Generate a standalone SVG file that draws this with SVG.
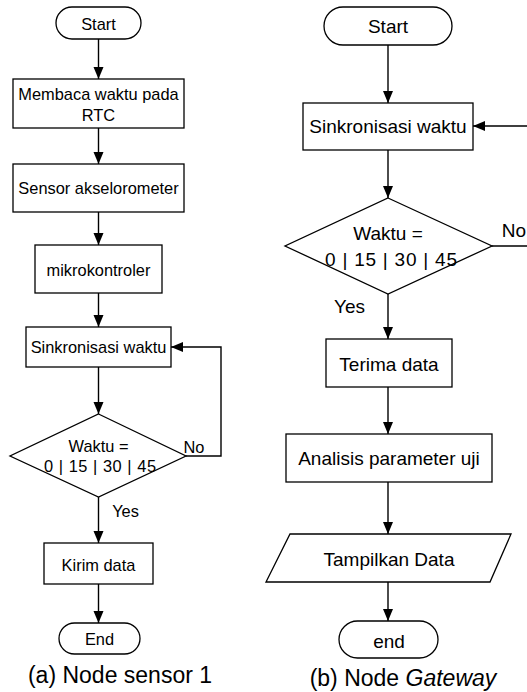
<svg xmlns="http://www.w3.org/2000/svg" width="527" height="692" viewBox="0 0 527 692">
<style>
.s{fill:#fff;stroke:#000;stroke-width:1.3}
.c{fill:none;stroke:#000;stroke-width:1.4}
text{font-family:"Liberation Sans",Arial,sans-serif;fill:#000;text-anchor:middle}
.l{font-size:16.4px}
.r{font-size:19px}
.cap{font-size:23px}
</style>
<defs>
<marker id="ah" markerUnits="userSpaceOnUse" markerWidth="12" markerHeight="12" viewBox="0 0 12 12" refX="12" refY="6" orient="auto">
<path d="M0,1 L12,6 L0,11 Z" fill="#000"/>
</marker>
</defs>
<rect width="527" height="692" fill="#fff"/>
<g id="connectors">
<line class="c" x1="98.5" y1="39" x2="98.5" y2="79" marker-end="url(#ah)"/>
<line class="c" x1="98.5" y1="128" x2="98.5" y2="164" marker-end="url(#ah)"/>
<line class="c" x1="98.5" y1="212" x2="98.5" y2="245" marker-end="url(#ah)"/>
<line class="c" x1="98.5" y1="293" x2="98.5" y2="327" marker-end="url(#ah)"/>
<line class="c" x1="98.5" y1="367" x2="98.5" y2="414" marker-end="url(#ah)"/>
<polyline class="c" points="186,456 221,456 221,347 171,347" marker-end="url(#ah)"/>
<line class="c" x1="98.5" y1="497" x2="98.5" y2="543" marker-end="url(#ah)"/>
<line class="c" x1="98.5" y1="584" x2="98.5" y2="623" marker-end="url(#ah)"/>
<line class="c" x1="388" y1="45" x2="388" y2="103" marker-end="url(#ah)"/>
<line class="c" x1="388" y1="150" x2="388" y2="198" marker-end="url(#ah)"/>
<polyline class="c" points="492,246 535,246 535,126 473,126" marker-end="url(#ah)"/>
<line class="c" x1="388" y1="294" x2="388" y2="339" marker-end="url(#ah)"/>
<line class="c" x1="388" y1="387" x2="388" y2="434" marker-end="url(#ah)"/>
<line class="c" x1="388" y1="482" x2="388" y2="534" marker-end="url(#ah)"/>
<line class="c" x1="388" y1="582" x2="388" y2="621" marker-end="url(#ah)"/>
<text class="l" x="194" y="453">No</text>
<text class="l" x="125.5" y="517">Yes</text>
<text class="r" x="514" y="237">No</text>
<text class="r" x="349.5" y="313">Yes</text>
</g>
<g id="a-start"><rect class="s" x="56" y="7" width="85" height="32" rx="16"/><text class="l" x="98.5" y="29.5">Start</text></g>
<g id="a-rtc"><rect class="s" x="13" y="79" width="171" height="49"/><text class="l" x="98.5" y="100">Membaca waktu pada</text><text class="l" x="98.5" y="121">RTC</text></g>
<g id="a-sensor"><rect class="s" x="13" y="164" width="171" height="48"/><text class="l" x="98.5" y="194">Sensor akselorometer</text></g>
<g id="a-mcu"><rect class="s" x="35" y="245" width="127" height="48"/><text class="l" x="98.5" y="276">mikrokontroler</text></g>
<g id="a-sync"><rect class="s" x="26" y="327" width="145" height="40"/><text class="l" x="98.5" y="353">Sinkronisasi waktu</text></g>
<g id="a-dec"><polygon class="s" points="98.5,414 186,456 98.5,497 10,456"/><text class="l" x="98.5" y="452">Waktu =</text><text class="l" x="100" y="472" textLength="112" lengthAdjust="spacing">0 | 15 | 30 | 45</text></g>
<g id="a-send"><rect class="s" x="44" y="543" width="109" height="41"/><text class="l" x="98.5" y="571">Kirim data</text></g>
<g id="a-end"><rect class="s" x="59" y="623" width="81" height="31" rx="15.5"/><text class="l" x="99.5" y="645">End</text></g>
<g id="a-caption"><text class="cap" x="120" y="683">(a) Node sensor 1</text></g>
<g id="b-start"><rect class="s" x="324" y="7" width="128" height="38" rx="19"/><text class="r" x="388" y="33">Start</text></g>
<g id="b-sync"><rect class="s" x="303" y="103" width="170" height="47"/><text class="r" x="388" y="133">Sinkronisasi waktu</text></g>
<g id="b-dec"><polygon class="s" points="388,198 492,246 388,294 285,246"/><text class="r" x="388" y="240">Waktu =</text><text class="r" x="391" y="266" textLength="132" lengthAdjust="spacing">0 | 15 | 30 | 45</text></g>
<g id="b-recv"><rect class="s" x="326" y="339" width="126" height="48"/><text class="r" x="389" y="371">Terima data</text></g>
<g id="b-anal"><rect class="s" x="286" y="434" width="206" height="48"/><text class="r" x="389" y="465">Analisis parameter uji</text></g>
<g id="b-show"><polygon class="s" points="290,534 511,534 490,582 266,582"/><text class="r" x="389" y="566">Tampilkan Data</text></g>
<g id="b-end"><rect class="s" x="339" y="621" width="99" height="37" rx="18.5"/><text class="r" x="389" y="648">end</text></g>
<g id="b-caption"><text class="cap" x="403" y="686">(b) Node <tspan font-style="italic">Gateway</tspan></text></g>
</svg>
